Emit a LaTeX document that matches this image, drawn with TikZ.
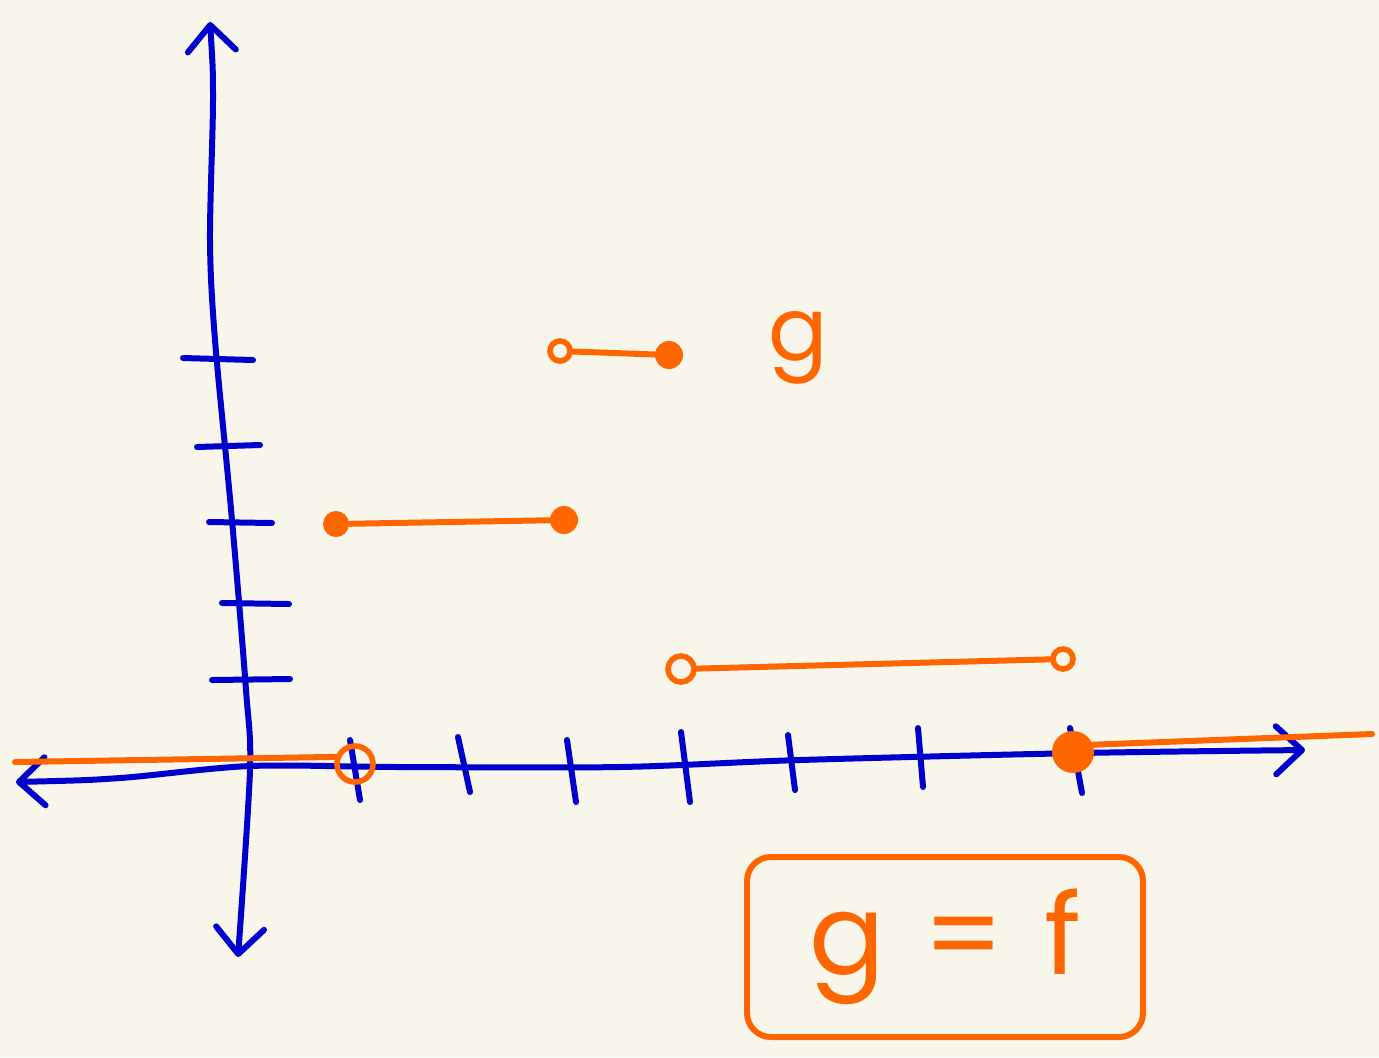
\documentclass[tikz,border=0pt]{standalone}
\usepackage{fontspec}
\newfontfamily\handfont{Poppins}
\usetikzlibrary{positioning,arrows.meta}
\definecolor{paper}{HTML}{F8F5EA}
\definecolor{axisblue}{HTML}{0000CC}
\definecolor{steporange}{HTML}{FF6600}

\begin{document}
\begin{tikzpicture}[
    x=0.5pt, y=-0.5pt,
    axis/.style={draw=axisblue, line width=3pt, line cap=round, line join=round},
    tick/.style={draw=axisblue, line width=3pt, line cap=round},
    seg/.style={draw=steporange, line width=3pt, line cap=round},
    opendot/.style={circle, draw=steporange, line width=2.8pt, inner sep=0pt, minimum size=10pt},
    filldot/.style={circle, fill=steporange, inner sep=0pt, minimum size=13pt},
    barbs/.style={{Straight Barb[length=13pt, width=24pt, round]}-{Straight Barb[length=13pt, width=24pt, round]}},
    lbl/.style={text=steporange, font=\handfont\fontsize{44}{48}\selectfont}
]

% Paper
\fill[paper] (0,0) rectangle (1379,1057);
\useasboundingbox (0,0) rectangle (1379,1057);

% Axes
\coordinate (xl) at (16,782);
\coordinate (xr) at (1305,750);
\coordinate (yt) at (210,22);
\coordinate (yb) at (238,957);
\draw[axis, barbs] plot[smooth] coordinates {(xl) (120,778) (250,766) (400,767) (620,767) (800,760) (1080,753) (xr)};
\draw[axis, barbs] plot[smooth] coordinates {(yt) (213,100) (210,240) (215,340) (232,520) (246,690) (250,770) (yb)};

% Ticks
\foreach \xa/\ya/\xb/\yb in {350/740/360/800, 458/737/470/792, 567/740/576/802, 681/732/690/802,
    788/735/795/790, 918/728/923/787, 1070/728/1082/793}
    \draw[tick] (\xa,\ya) -- (\xb,\yb);
\foreach \xa/\ya/\xb/\yb in {183/358/253/360, 197/447/260/445, 209/522/272/523, 222/603/289/604, 212/680/290/679}
    \draw[tick] (\xa,\ya) -- (\xb,\yb);

% Step function g
\coordinate (left) at (15,762);
\node[opendot, minimum size=18pt] (hole0) at (355,764) {};
\draw[seg] (left) -- (hole0.160);

\node[filldot] (a1) at (336,524) {};
\node[filldot, minimum size=14pt] (a2) at (564,520) {};
\draw[seg] (a1) -- (a2);

\node[opendot] (b1) at (560,351) {};
\node[filldot, minimum size=14pt] (b2) at (669,355) {};
\draw[seg] (b1) -- (b2);

\node[opendot, minimum size=13pt] (c1) at (681,669) {};
\node[opendot] (c2) at (1063,659) {};
\draw[seg] (c1) -- (c2);

\node[filldot, minimum size=21pt] (e0) at (1073,752) {};
\coordinate (right) at (1372,734);
\draw[seg] (e0.20) -- (right);

% Labels
\node[lbl] (glabel) at (798,348) {g};
\node[lbl, draw=steporange, line width=3pt, rounded corners=12pt, minimum width=198pt, minimum height=90pt,
    font=\handfont\fontsize{56}{60}\selectfont] (eq) at (945,947) {g\hspace{0.35em}=\hspace{0.35em}f};
\end{tikzpicture}
\end{document}
